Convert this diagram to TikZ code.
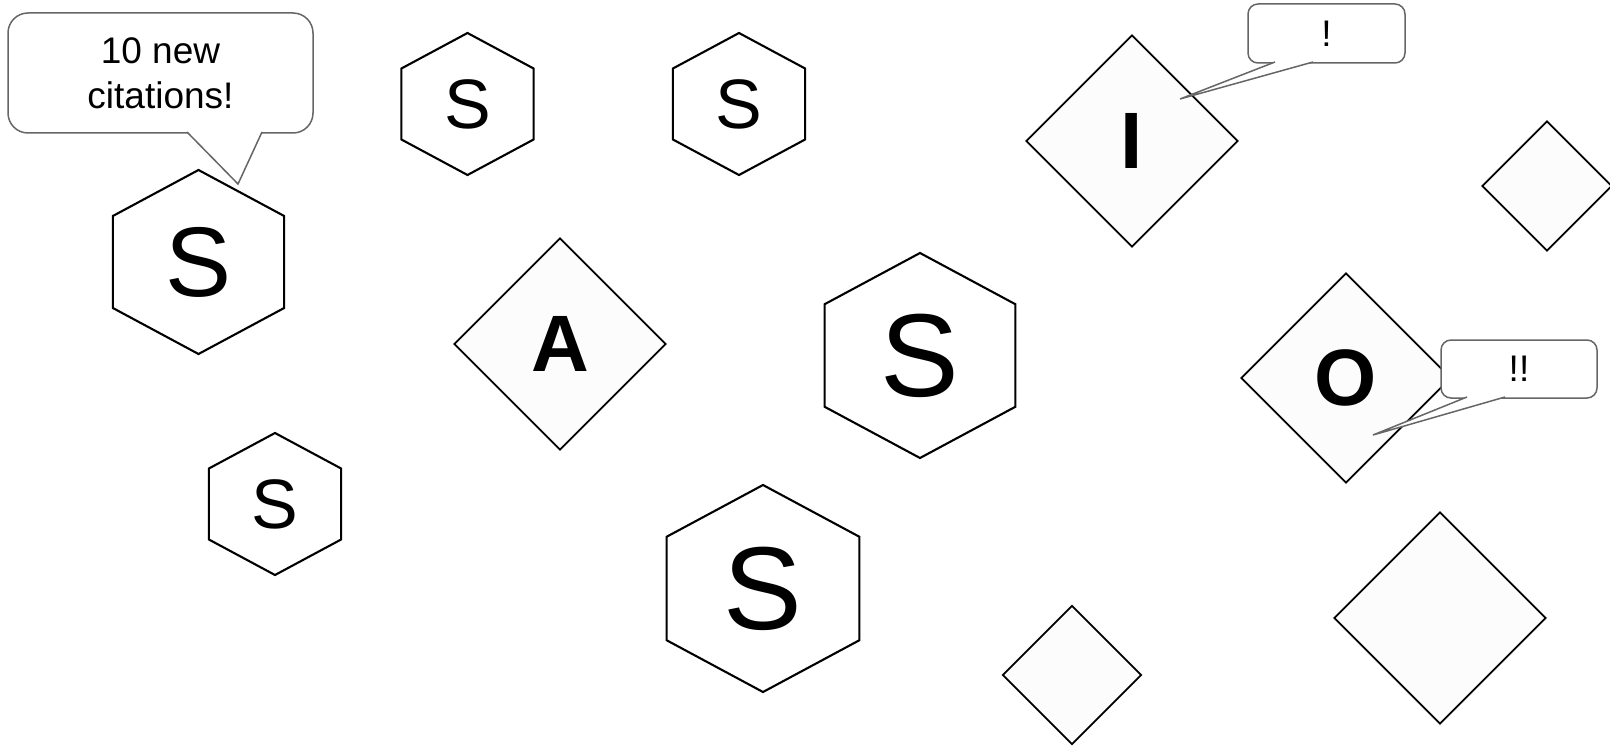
\documentclass[tikz,border=0pt]{standalone}
\usepackage{fontspec}
\setmainfont{Liberation Sans}
\newfontfamily\hexfont[FakeStretch=0.93]{Liberation Sans}
\usetikzlibrary{shapes.geometric}
\definecolor{globogris}{RGB}{102,102,102}
\definecolor{rombogris}{RGB}{252,252,252}

\begin{document}
\begin{tikzpicture}[x=1pt,y=-1pt,
hexa/.style={regular polygon,regular polygon sides=6,shape border rotate=30,draw=black,line width=2.1pt,fill=white,inner sep=0pt,xscale=1.075,minimum size=#1},
rombo/.style={diamond,draw=black,line width=1.7pt,fill=rombogris,inner sep=0pt,minimum width=#1,minimum height=#1,font=\fontsize{80}{80}\selectfont\bfseries},
letra/.style={font=\hexfont\fontsize{#1}{#1}\selectfont},
globo/.style={draw=globogris,line width=1.5pt,fill=white,inner sep=0pt,outer sep=0pt,align=center,font=\fontsize{37}{45}\selectfont},
cola/.style={draw=globogris,line width=1.5pt,fill=white,line join=miter}
]
\useasboundingbox (0,0) rectangle (1610,746);

% hexagonos
\node[hexa=184pt,letra=99] (s1) at (198.5,262) {S};
\node[hexa=142pt,letra=70] (s2) at (467.5,104) {S};
\node[hexa=142pt,letra=70] (s3) at (739,104) {S};
\node[hexa=142pt,letra=70] (s4) at (275,504) {S};
\node[hexa=205pt,letra=118] (s5) at (920,355.5) {S};
\node[hexa=207pt,letra=118] (s6) at (763,588.5) {S};

% rombos
\node[rombo=212pt] (rI) at (1132,141) {I};
\node[rombo=212pt] (rA) at (560,344) {A};
\node[rombo=210pt] (rO) at (1346,378) {O};
\node[rombo=130pt] (r1) at (1547,186) {};
\node[rombo=139pt] (r2) at (1072,675) {};
\node[rombo=212pt] (r3) at (1440,618) {};

% globos
\node[globo,rounded corners=20pt,minimum width=305pt,minimum height=120pt] (g1) at (160.5,73) {10 new\\citations!};
\coordinate (punta1) at (238,184);
\draw[cola] ([xshift=26.5pt,yshift=1pt]g1.south) -- (punta1) -- ([xshift=101.5pt,yshift=1pt]g1.south);

\node[globo,rounded corners=10pt,minimum width=157pt,minimum height=59pt] (g2) at (1326.5,33.5) {!};
\coordinate (punta2) at (1180,99);
\draw[cola] ([xshift=-51.5pt,yshift=1pt]g2.south) -- (punta2) -- ([xshift=-13.5pt,yshift=1pt]g2.south);

\node[globo,rounded corners=10pt,minimum width=156pt,minimum height=58pt] (g3) at (1519,369) {!!};
\coordinate (punta3) at (1373,435);
\draw[cola] ([xshift=-52pt,yshift=1pt]g3.south) -- (punta3) -- ([xshift=-14pt,yshift=1pt]g3.south);
\end{tikzpicture}
\end{document}
